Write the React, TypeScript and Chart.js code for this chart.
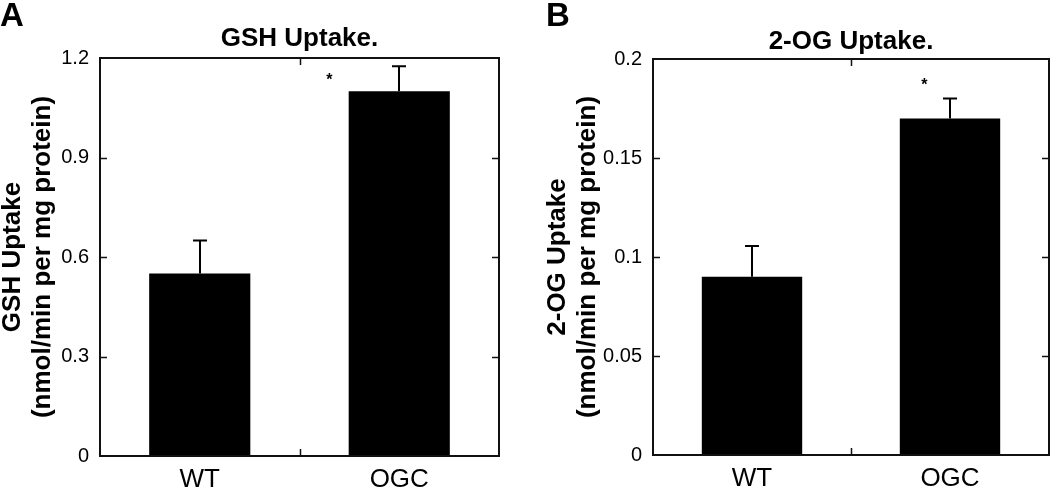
import React, { useEffect, useRef } from "react";
import { Chart, registerables } from "chart.js";

Chart.register(...registerables);

// ---- data ----
const categories = ["WT", "OGC"];

const gshUptake = [0.55, 1.1];
const gshError = [0.1, 0.075];
const gshTicks = [0, 0.3, 0.6, 0.9, 1.2];
const gshTickLabels = ["0", "0.3", "0.6", "0.9", "1.2"];

const ogUptake = [0.09, 0.17];
const ogError = [0.0155, 0.01];
const ogTicks = [0, 0.05, 0.1, 0.15, 0.2];
const ogTickLabels = ["0", "0.05", "0.1", "0.15", "0.2"];

const FONT = "Arial, 'Liberation Sans', Helvetica, sans-serif";

type PanelCfg = {
  letter: string;
  title: string;
  yTitle: string[];
  values: number[];
  errors: number[];
  ticks: number[];
  tickLabels: string[];
  starValue: number;
  starShift: number; // fraction of a category step, relative to the OGC bar
  left: number;
  width: number;
  padTop: number;
  padRight: number;
  yAxisWidth: number;
  xAxisHeight: number;
  titleY: number;
  letterX: number;
  letterY: number;
};

function makeDecor(cfg: PanelCfg) {
  return {
    id: "panelDecor",
    afterDatasetsDraw(chart: any) {
      const { ctx, chartArea: a, scales } = chart;
      const xs = scales.x;
      const ys = scales.y;
      ctx.save();

      // error bars (upper only)
      ctx.strokeStyle = "#000";
      ctx.lineWidth = 2;
      cfg.values.forEach((v, i) => {
        const px = Math.round(xs.getPixelForValue(i));
        const y0 = ys.getPixelForValue(v);
        const y1 = ys.getPixelForValue(v + cfg.errors[i]);
        ctx.beginPath();
        ctx.moveTo(px, y0);
        ctx.lineTo(px, y1);
        ctx.moveTo(px - 7, y1);
        ctx.lineTo(px + 7, y1);
        ctx.stroke();
      });

      // frame
      ctx.strokeStyle = "#111";
      ctx.lineWidth = 2;
      ctx.strokeRect(a.left, a.top, a.right - a.left, a.bottom - a.top);

      // inward ticks
      ctx.lineWidth = 1.5;
      const tl = 7;
      ys.ticks.forEach((t: any) => {
        if (t.value <= ys.min || t.value >= ys.max) return;
        const py = Math.round(ys.getPixelForValue(t.value)) + 0.5;
        ctx.beginPath();
        ctx.moveTo(a.left, py);
        ctx.lineTo(a.left + tl, py);
        ctx.moveTo(a.right - tl, py);
        ctx.lineTo(a.right, py);
        ctx.stroke();
      });
      for (let i = 0; i < categories.length - 1; i++) {
        const bx = Math.round((xs.getPixelForValue(i) + xs.getPixelForValue(i + 1)) / 2) + 0.5;
        ctx.beginPath();
        ctx.moveTo(bx, a.top);
        ctx.lineTo(bx, a.top + tl);
        ctx.moveTo(bx, a.bottom - tl);
        ctx.lineTo(bx, a.bottom);
        ctx.stroke();
      }

      // significance star
      const step = xs.getPixelForValue(1) - xs.getPixelForValue(0);
      const sx = xs.getPixelForValue(1) + cfg.starShift * step;
      const sy = ys.getPixelForValue(cfg.starValue);
      ctx.fillStyle = "#000";
      ctx.font = `bold 16px ${FONT}`;
      ctx.textAlign = "center";
      ctx.textBaseline = "alphabetic";
      ctx.fillText("*", sx, sy + 9);

      // panel title
      ctx.font = `bold 26px ${FONT}`;
      ctx.textAlign = "center";
      ctx.textBaseline = "middle";
      ctx.fillText(cfg.title, (a.left + a.right) / 2, cfg.titleY);

      // panel letter
      ctx.font = `bold 33px ${FONT}`;
      ctx.textAlign = "left";
      ctx.textBaseline = "alphabetic";
      ctx.fillText(cfg.letter, cfg.letterX, cfg.letterY);

      ctx.restore();
    },
  };
}

function Panel({ cfg }: { cfg: PanelCfg }) {
  const ref = useRef<HTMLCanvasElement>(null);
  useEffect(() => {
    const chart = new Chart(ref.current as HTMLCanvasElement, {
      type: "bar",
      data: {
        labels: categories,
        datasets: [
          {
            data: cfg.values,
            backgroundColor: "#000",
            borderWidth: 0,
            barPercentage: 0.507,
            categoryPercentage: 1,
          },
        ],
      },
      options: {
        responsive: false,
        animation: false,
        events: [],
        layout: { padding: { left: 0, top: cfg.padTop, right: cfg.padRight, bottom: 0 } },
        plugins: {
          legend: { display: false },
          title: { display: false },
          tooltip: { enabled: false },
        },
        scales: {
          x: {
            type: "category",
            offset: true,
            grid: { display: false, drawTicks: false },
            border: { display: false },
            ticks: {
              color: "#000",
              padding: 8,
              maxRotation: 0,
              font: { family: FONT, size: 26, lineHeight: 1.2 },
            },
            afterFit: (s: any) => {
              s.height = cfg.xAxisHeight;
            },
          },
          y: {
            type: "linear",
            min: cfg.ticks[0],
            max: cfg.ticks[cfg.ticks.length - 1],
            grid: { display: false, drawTicks: false },
            border: { display: false },
            afterBuildTicks: (s: any) => {
              s.ticks = cfg.ticks.map((v) => ({ value: v }));
            },
            ticks: {
              color: "#000",
              padding: 11,
              font: { family: FONT, size: 20 },
              callback: (_v: any, i: number) => cfg.tickLabels[i],
            },
            title: {
              display: true,
              text: cfg.yTitle,
              color: "#000",
              font: { family: FONT, size: 26, weight: "bold", lineHeight: 1.18 },
              padding: { top: -3, bottom: 0 },
            },
            afterFit: (s: any) => {
              s.width = cfg.yAxisWidth;
            },
          },
        },
      } as any,
      plugins: [makeDecor(cfg)],
    });
    return () => chart.destroy();
  }, []);
  return (
    <canvas
      ref={ref}
      width={cfg.width}
      height={490}
      style={{ position: "absolute", left: cfg.left, top: 0, width: cfg.width, height: 490 }}
    />
  );
}

const panelA: PanelCfg = {
  letter: "A",
  title: "GSH Uptake.",
  yTitle: ["GSH Uptake", "(nmol/min per mg protein)"],
  values: gshUptake,
  errors: gshError,
  ticks: gshTicks,
  tickLabels: gshTickLabels,
  starValue: 1.146,
  starShift: -0.35,
  left: 0,
  width: 525,
  padTop: 58,
  padRight: 26,
  yAxisWidth: 100,
  xAxisHeight: 34,
  titleY: 39,
  letterX: 0,
  letterY: 26,
};

const panelB: PanelCfg = {
  letter: "B",
  title: "2-OG Uptake.",
  yTitle: ["2-OG Uptake", "(nmol/min per mg protein)"],
  values: ogUptake,
  errors: ogError,
  ticks: ogTicks,
  tickLabels: ogTickLabels,
  starValue: 0.189,
  starShift: -0.13,
  left: 545,
  width: 505,
  padTop: 59,
  padRight: 1,
  yAxisWidth: 108,
  xAxisHeight: 35,
  titleY: 42,
  letterX: 1,
  letterY: 26,
};

export default function App() {
  return (
    <div
      style={{
        position: "absolute",
        left: 0,
        top: 0,
        width: 1050,
        height: 490,
        background: "#fff",
        overflow: "hidden",
      }}
    >
      <Panel cfg={panelA} />
      <Panel cfg={panelB} />
    </div>
  );
}
